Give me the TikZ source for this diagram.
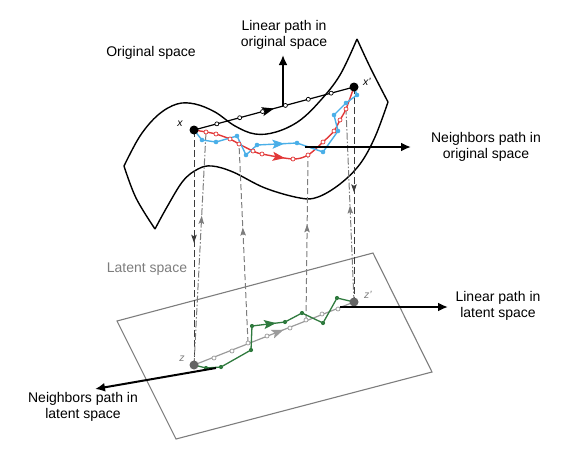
\documentclass[tikz,border=0pt]{standalone}
\usepackage{fontspec}
\setmainfont{Liberation Sans}
\usetikzlibrary{arrows.meta,decorations.markings,calc}
\definecolor{pred}{RGB}{226,56,56}
\definecolor{pblue}{RGB}{74,175,232}
\definecolor{pgreen}{RGB}{47,122,62}
\definecolor{pgray}{RGB}{155,155,155}
\definecolor{lgray}{RGB}{125,125,125}
\definecolor{dgray}{RGB}{60,60,60}
\definecolor{zgray}{RGB}{100,100,100}
\tikzset{
  lbl/.style={font=\fontsize{14}{15.5}\selectfont, align=center, inner sep=0pt},
  ptlbl/.style={font=\fontsize{10.5}{10.5}\selectfont\itshape, inner sep=0pt},
  bigdot/.style={circle, fill=#1, inner sep=0pt, minimum size=9pt},
  hollow/.style={circle, draw=#1, fill=white, inner sep=0pt, minimum size=4pt, line width=0.7pt},
  sdot/.style={circle, fill=#1, inner sep=0pt, minimum size=4.6pt},
  surf/.style={line width=1.4pt, black},
  plane/.style={line width=1.1pt, lgray},
  midarrow/.style={postaction={decorate}, decoration={markings, mark=at position #1 with {\arrow{Stealth[length=12pt,width=9pt,inset=2.5pt]}}}},
  midtip/.style={postaction={decorate}, decoration={markings, mark=at position #1 with {\arrow{Stealth[length=8pt,width=5.5pt,inset=1.5pt]}}}},
  dkdash/.style={dgray, line width=1pt, dash pattern=on 7pt off 3pt},
  gydash/.style={lgray, line width=1pt, dash pattern=on 6pt off 3pt},
  gydashdot/.style={lgray, line width=1pt, dash pattern=on 7pt off 2pt on 1.5pt off 2pt},
  bigarrow/.style={black, line width=2pt, -{Latex[length=10pt,width=9pt]}},
}
\begin{document}
\begin{tikzpicture}[x=1pt,y=-1pt]
\path[use as bounding box] (0,0) rectangle (575,458);

% key points
\coordinate (X) at (194,130);
\coordinate (XP) at (354,87);
\coordinate (Z) at (194,365);
\coordinate (ZP) at (354,302);

% red points
\coordinate (r1) at (206,132);
\coordinate (r2) at (216,134);
\coordinate (r3) at (230,139);
\coordinate (r4) at (239,144);
\coordinate (r5) at (253,151);
\coordinate (r6) at (262,154);
\coordinate (r7) at (293,159);
\coordinate (r8) at (308,155);
\coordinate (r9) at (323,142);
\coordinate (r10) at (334,131);
\coordinate (r11) at (340,120);
\coordinate (r12) at (346,109);

% blue points
\coordinate (b1) at (202,140);
\coordinate (b2) at (216,142);
\coordinate (b3) at (237,136);
\coordinate (b4) at (246,155);
\coordinate (b5) at (257,145);
\coordinate (b6) at (297,143);
\coordinate (b7) at (323,152);
\coordinate (b8) at (338,131);
\coordinate (b9) at (334,115);
\coordinate (b10) at (346,103);
\coordinate (b11) at (357,95);

% green points
\coordinate (g1) at (206,368);
\coordinate (g2) at (221,367);
\coordinate (g3) at (251,350);
\coordinate (g4) at (252,326);
\coordinate (g5) at (285,322);
\coordinate (g6) at (302,313);
\coordinate (g7) at (323,323);
\coordinate (g8) at (337,298);

% gray latent points
\coordinate (q1) at (214,358);
\coordinate (q2) at (232,351);
\coordinate (q3) at (248,343);
\coordinate (q4) at (267,336);
\coordinate (q5) at (290,328);
\coordinate (q6) at (306,320);
\coordinate (q7) at (322,314);
\coordinate (q8) at (338,309);

% ---------- original space surface ----------
\draw[surf] plot[smooth,tension=0.6] coordinates {(124,166) (140,136) (158,115) (177,104) (195,104) (215,112) (235,126) (255,134) (276,132) (299,121) (320,101) (340,75) (357,39)};
\draw[surf] plot[smooth,tension=0.6] coordinates {(155,229) (167,207) (183,181) (198,169) (212,166) (233,172) (265,188) (300,198) (318,197) (340,184) (360,164) (375,137) (388,102)};
\draw[surf] plot[smooth,tension=0.6] coordinates {(124,166) (136,198) (155,229)};
\draw[surf] plot[smooth,tension=0.6] coordinates {(357,39) (371,69) (388,102)};

% ---------- latent plane ----------
\draw[plane] (117,321) -- (373,253) -- (432,372) -- (176,439) -- cycle;

% ---------- projection lines ----------
\draw[dkdash, midtip=0.48] (X) -- (Z);
\draw[dkdash, midtip=0.49] (XP) -- (ZP);
\draw[gydashdot, midtip=0.64] (Z) -- (r1);
\draw[gydash, midtip=0.58] (q3) -- (r4);
\draw[gydash, midtip=0.58] (q6) -- (r8);
\draw[gydashdot, midtip=0.50] (ZP) -- (r12);

% ---------- paths in original space ----------
\draw[black, line width=1.2pt, midarrow=0.5] (X) -- (XP);
\draw[pred, line width=1.4pt, midarrow=0.47] plot[smooth,tension=0.5] coordinates {(X) (r1) (r2) (r3) (r4) (r5) (r6) (r7) (r8) (r9) (r10) (r11) (r12) (XP)};
\draw[pblue, line width=1.4pt, midarrow=0.48] (X) -- (b1) -- (b2) -- (b3) -- (b4) -- (b5) -- (b6) -- (b7) -- (b8) -- (b9) -- (b10) -- (b11) -- (XP);

\foreach \k in {1,...,6} \node[hollow=black] (lc\k) at ($(X)!\k/7!(XP)$) {};
\foreach \k in {1,...,12} \node[hollow=pred] (rc\k) at (r\k) {};
\foreach \k in {1,...,11} \node[sdot=pblue] (bc\k) at (b\k) {};

% ---------- paths in latent space ----------
\draw[pgray, line width=1.2pt, midarrow=0.56] (Z) -- (ZP);
\draw[pgreen, line width=1.3pt, midarrow=0.53] (Z) -- (g1) -- (g2) -- (g3) -- (g4) -- (g5) -- (g6) -- (g7) -- (g8) -- (ZP);
\foreach \k in {1,...,8} \node[hollow=pgray] (qc\k) at (q\k) {};
\foreach \k in {1,...,8} \node[sdot=pgreen, minimum size=4.2pt] (gc\k) at (g\k) {};

% ---------- endpoints ----------
\node[bigdot=black] (x) at (X) {};
\node[bigdot=black] (xp) at (XP) {};
\node[bigdot=zgray] (z) at (Z) {};
\node[bigdot=zgray] (zp) at (ZP) {};

\node[ptlbl] (xl) at (180,124) {x};
\node[ptlbl] (xpl) at (367,82) {x’};
\node[ptlbl, text=lgray] (zl) at (182,359) {z};
\node[ptlbl, text=lgray] (zpl) at (368,295) {z’};

% ---------- callout arrows ----------
\coordinate (lpoS) at (283,106);
\coordinate (lpoE) at (283,55);
\draw[bigarrow] (lpoS) -- (lpoE);
\coordinate (npoS) at (305,147);
\coordinate (npoE) at (411,147);
\draw[bigarrow] (npoS) -- (npoE);
\coordinate (nplS) at (216,368);
\coordinate (nplE) at (95,389);
\draw[bigarrow] (nplS) -- (nplE);
\coordinate (lplS) at (340,307);
\coordinate (lplE) at (448,307);
\draw[bigarrow] (lplS) -- (lplE);

% ---------- labels ----------
\node[lbl] (orig) at (151,53) {Original space};
\node[lbl] (lat) at (147,269) {\color{lgray}Latent space};
\node[lbl] (lpo) at (284,35) {Linear path in\\original space};
\node[lbl] (npo) at (486,147) {Neighbors path in\\original space};
\node[lbl] (lpl) at (498,306) {Linear path in\\latent space};
\node[lbl] (npl) at (83,407) {Neighbors path in\\latent space};
\end{tikzpicture}
\end{document}
